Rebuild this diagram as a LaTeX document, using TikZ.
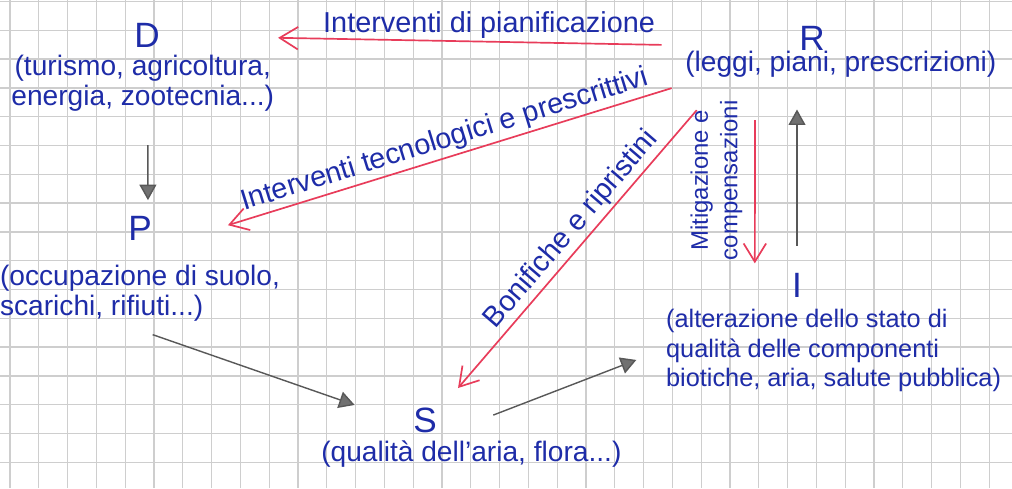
\documentclass[tikz,border=0pt]{standalone}
\usepackage{fontspec}
\setmainfont{Liberation Sans}
\definecolor{inkblue}{RGB}{30,44,168}
\definecolor{inkred}{RGB}{232,60,90}
\definecolor{pencil}{RGB}{88,88,88}
\definecolor{gridgray}{RGB}{206,206,206}
\usetikzlibrary{arrows.meta,positioning}

\begin{document}
\begin{tikzpicture}[x=0.025cm, y=-0.025cm,
    gridline/.style={gridgray, line width=0.9pt},
    letter/.style={text=inkblue, font=\fontsize{25}{28}\selectfont, inner sep=2pt},
    desc/.style={text=inkblue, font=\fontsize{20}{21}\selectfont, align=center, inner sep=2pt},
    lbl/.style={text=inkblue, font=\fontsize{20.5}{21}\selectfont, inner sep=2pt},
    redarr/.style={-{Straight Barb[length=13pt,width=16pt]}, inkred, line width=1.2pt},
    grayarr/.style={-{Triangle[length=11pt,width=12pt,fill=pencil!85]}, pencil, line width=1pt}
  ]
  \useasboundingbox[fill=white] (0,0) rectangle (1012,488);
  % squared paper
  \foreach \k in {0,...,34}
    \draw[gridline] ({10+28.8*\k},0) -- ({10+28.8*\k},488);
  \foreach \k in {0,...,16}
    \draw[gridline] (0,{1.5+28.8*\k}) -- (1012,{1.5+28.8*\k});

  % DPSIR nodes
  \node[letter] (D) at (147,35) {D};
  \node[desc, below=1.5pt of D, xshift=-3pt] (Dtxt) {(turismo, agricoltura,\\energia, zootecnia...)};
  \node[letter] (P) at (140,228) {P};
  \node[desc, align=left, below=13.5pt of P] (Ptxt) {(occupazione di suolo,\\scarichi, rifiuti...)};
  \node[letter] (S) at (425,420) {S};
  \node[desc, below=1.5pt of S, xshift=33pt] (Stxt) {(qualità dell'aria, flora...)};
  \node[letter] (I) at (797,285) {I};
  \node[desc, align=left, font=\fontsize{18}{21}\selectfont, below=4.4pt of I, xshift=26pt] (Itxt)
    {(alterazione dello stato di\\qualità delle componenti\\biotiche, aria, salute pubblica)};
  \node[letter] (R) at (812,38) {R};
  \node[desc, below=-4pt of R, xshift=20.5pt] (Rtxt) {(leggi, piani, prescrizioni)};

  % causal chain
  \draw[grayarr, shorten <=22pt, shorten >=9pt] ([xshift=3.5pt]Dtxt.south) -- ([xshift=5.7pt]P.north);
  \draw[grayarr] ([xshift=9pt,yshift=-7.5pt]Ptxt.south) -- ([xshift=-39.5pt,yshift=10.7pt]S.west);
  \draw[grayarr] ([xshift=38pt,yshift=3.5pt]S.east) -- ([xshift=-19pt,yshift=-6.5pt]Itxt.west);
  \draw[grayarr, shorten <=17pt, shorten >=21pt] (I.north) -- (I.north |- Rtxt.south);

  % responses
  \draw[redarr] ([xshift=-14.6pt,yshift=1.9pt]Rtxt.north west) -- ([xshift=82pt,yshift=-2pt]D.east)
    node[lbl, above, pos=0.45] {Interventi di pianificazione};
  \draw[redarr] ([xshift=-7.5pt,yshift=-5.8pt]Rtxt.south west) -- ([xshift=52pt,yshift=2pt]P.east)
    node[lbl, sloped, above, pos=0.5] {Interventi tecnologici e prescrittivi};
  \draw[redarr] ([xshift=10.3pt,yshift=-21.5pt]Rtxt.south west) -- ([xshift=23.5pt,yshift=11.7pt]S.north)
    node[lbl, sloped, above, pos=0.47] {Bonifiche e ripristini};
  \draw[redarr] ([xshift=-61pt,yshift=-28.6pt]Rtxt.south) -- ([xshift=-30pt,yshift=4.6pt]I.north)
    node[lbl, font=\fontsize{17}{21}\selectfont, align=center, rotate=90, anchor=south,
         outer ysep=7pt, pos=0.42] {Mitigazione e\\compensazioni};
\end{tikzpicture}
\end{document}
